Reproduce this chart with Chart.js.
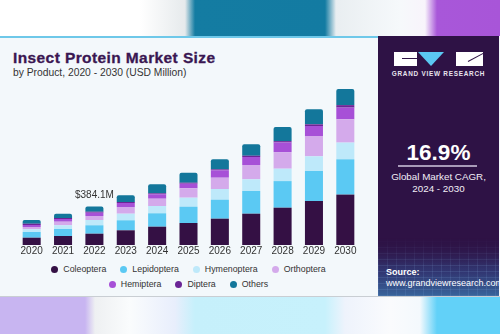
<!DOCTYPE html>
<html lang="en"><head>
<meta charset="utf-8"/>
<title>Insect Protein Market Size</title>
<script src="https://cdn.jsdelivr.net/npm/chart.js"></script>
<style>
    html, body { margin: 0; padding: 0; }
    body {
        width: 500px; height: 334px; position: relative; overflow: hidden;
        font-family: 'Liberation Sans', Arial, sans-serif;
        background: #fff;
    }
    .strip-top {
        position: absolute; left: 0; top: 0; width: 500px; height: 36px;
        background: linear-gradient(90deg, #ffffff 0px, #ffffff 140px, #e6eaec 185px, #147ca2 195px, #137ba2 325px, #e9eef1 336px, #f6f9fb 400px, #f8f4fb 425px, #a857d9 437px, #a855d8 500px);
    }
    .strip-bottom {
        position: absolute; left: 0; top: 297px; width: 500px; height: 37px;
        background: linear-gradient(90deg, #c8b5f1 0px, #c8b5f1 85px, #eef0f2 95px, #fafcfd 130px, #e8eefc 175px, #c6f0fb 195px, #c7f1fc 325px, #eef3fc 345px, #fafbfd 390px, #f4f9fd 420px, #62d1f8 437px, #62d1f8 500px);
    }
    .card {
        position: absolute; left: 0; top: 36px; width: 500px; height: 261px;
        background: #f3f8fb;
        border-bottom: 1px solid #c9ced3;
        box-sizing: border-box;
    }
    .card::before {
        content: ''; position: absolute; left: 0; top: 0; width: 378px; height: 2px; background: #6ec8e9;
    }
    .title {
        position: absolute; left: 13px; top: 12.5px;
        font-size: 15.5px; font-weight: bold; color: #3a1752; letter-spacing: 0.4px;
        -webkit-text-stroke: 0.3px #3a1752;
    }
    .subtitle {
        position: absolute; left: 13px; top: 31px;
        font-size: 10.3px; color: #333;
    }
    .chart-box { position: absolute; left: 16px; top: 85px; width: 345px; height: 172px; }
    .legend {
        position: absolute; left: 0; top: 229px; width: 377px;
        display: flex; flex-wrap: wrap; justify-content: center; row-gap: 3px;
        font-size: 8.8px; color: #333;
    }
    .legend .item { display: flex; align-items: center; margin: 0 7px; line-height: 9px; }
    .legend .dot { width: 7px; height: 7px; border-radius: 50%; margin-right: 5px; }
    .legend .break { flex-basis: 100%; height: 0; }
    .panel {
        position: absolute; left: 378px; top: 0; width: 121px; height: 260px;
        background: #2e1245; color: #fff; overflow: hidden;
    }
    .panel .grid {
        position: absolute; left: 0; bottom: 0; width: 121px; height: 58px;
        background:
            repeating-linear-gradient(0deg, rgba(140,180,230,0.14) 0px, rgba(140,180,230,0.14) 1px, transparent 1px, transparent 6px),
            repeating-linear-gradient(90deg, rgba(140,180,230,0.12) 0px, rgba(140,180,230,0.12) 1px, transparent 1px, transparent 9px),
            linear-gradient(180deg, rgba(46,18,69,1) 0%, rgba(50,60,120,0.9) 60%, rgba(56,100,155,1) 100%);
        -webkit-mask-image: linear-gradient(180deg, transparent 0%, #000 50%);
    }
    .logo { position: absolute; left: 16px; top: 16px; width: 90px; height: 14px; }
    .logo .l { position: absolute; left: 0; top: 0; width: 23px; height: 14px; background: #fff; }
    .logo .l::after { content: ''; position: absolute; left: 8px; top: 6px; width: 15px; height: 1px; background: #2e1245; }
    .logo .t {
        position: absolute; left: 24px; top: 0; width: 0; height: 0;
        border-left: 13px solid transparent; border-right: 13px solid transparent; border-top: 14px solid #5bc8f2;
    }
    .logo .r { position: absolute; left: 62px; top: 0; width: 27px; height: 14px; background: #fff; overflow: hidden; }
    .logo .r::after {
        content: ''; position: absolute; left: 12px; top: 9px; width: 18px; height: 1px; background: #2e1245;
        transform: rotate(-28deg); transform-origin: left center;
    }
    .brand {
        position: absolute; left: 0; top: 34px; width: 121px; text-align: center;
        font-size: 6.4px; font-weight: bold; letter-spacing: 0.75px; color: #e8e4ee;
    }
    .cagr {
        position: absolute; left: 0; top: 104px; width: 121px; text-align: center;
        font-size: 22.5px; font-weight: bold;
    }
    .rule { position: absolute; left: 20px; top: 129px; width: 79px; height: 1.5px; background: #a99bb9; }
    .cagr-note {
        position: absolute; left: 0; top: 135px; width: 121px; text-align: center;
        font-size: 9.8px; line-height: 11.5px; color: #f2eef6;
    }
    .source {
        position: absolute; left: 8px; top: 231px;
        font-size: 9px; line-height: 11px; color: #fff;
    }
</style>
</head>
<body>
<div class="strip-top"></div>
<div class="strip-bottom"></div>
<div class="card">
    <div class="title">Insect Protein Market Size</div>
    <div class="subtitle">by Product, 2020 - 2030 (USD Million)</div>
    <div class="legend" id="legend"></div>
    <div class="panel">
        <div class="grid"></div>
        <div class="logo"><div class="l"></div><div class="t"></div><div class="r"></div></div>
        <div class="brand">GRAND VIEW RESEARCH</div>
        <div class="cagr">16.9%</div>
        <div class="rule"></div>
        <div class="cagr-note">Global Market CAGR,<br/>2024 - 2030</div>
        <div class="source"><b>Source:</b><br/>www.grandviewresearch.com</div>
    </div>
</div>
<div class="chart-box"><canvas id="chart"></canvas></div>
<script>
    // market size by product, USD million
    const years = ['2020', '2021', '2022', '2023', '2024', '2025', '2026', '2027', '2028', '2029', '2030'];
    const coleoptera = [73, 90, 113, 147, 183, 220, 263, 313, 373, 440, 504];
    const lepidoptera = [57, 70, 84, 100, 134, 163, 190, 227, 266, 300, 353];
    const hymenoptera = [27, 37, 53, 66, 73, 90, 107, 117, 124, 147, 167];
    const orthoptera = [23, 36, 40, 67, 73, 94, 113, 143, 166, 203, 233];
    const hemiptera = [20, 27, 33, 40, 44, 46, 74, 80, 97, 100, 117];
    const diptera = [13, 10, 10, 10, 10, 10, 10, 13, 13, 17, 25];
    const others = [37, 43, 51.1, 67, 90, 100, 100, 114, 140, 150, 160];

    const seriesNames = ['Coleoptera', 'Lepidoptera', 'Hymenoptera', 'Orthoptera', 'Hemiptera', 'Diptera', 'Others'];
    const seriesColors = ['#341044', '#5bc9f3', '#bee9fa', '#d4aaeb', '#a750d7', '#6b2596', '#13779b'];
    const seriesData = [coleoptera, lepidoptera, hymenoptera, orthoptera, hemiptera, diptera, others];
    const labelledYear = '2022';

    const datasets = seriesNames.map((name, i) => ({
        label: name,
        data: seriesData[i],
        backgroundColor: seriesColors[i],
        borderWidth: 0,
        borderRadius: i === seriesNames.length - 1 ? 2 : 0,
        borderSkipped: 'start',
        barPercentage: 0.575,
        categoryPercentage: 1
    }));

    // legend rows: first four series, then the rest
    const legend = document.getElementById('legend');
    seriesNames.forEach((name, i) => {
        if (i === 4) {
            const br = document.createElement('div');
            br.className = 'break';
            legend.appendChild(br);
        }
        const item = document.createElement('div');
        item.className = 'item';
        item.innerHTML = '<span class="dot" style="background:' + seriesColors[i] + '"></span>' + name;
        legend.appendChild(item);
    });

    // total value written above one bar
    const totalLabel = {
        id: 'totalLabel',
        afterDatasetsDraw(chart) {
            const idx = years.indexOf(labelledYear);
            const total = seriesData.reduce((acc, s) => acc + s[idx], 0);
            const top = chart.getDatasetMeta(seriesData.length - 1).data[idx];
            const ctx = chart.ctx;
            ctx.save();
            ctx.font = '10px "Liberation Sans", Arial, sans-serif';
            ctx.fillStyle = '#333';
            ctx.textAlign = 'center';
            ctx.textBaseline = 'alphabetic';
            ctx.fillText('$' + total.toFixed(1) + 'M', top.x, top.y - 8.5);
            ctx.restore();
        }
    };

    new Chart(document.getElementById('chart'), {
        type: 'bar',
        data: { labels: years, datasets: datasets },
        plugins: [totalLabel],
        options: {
            responsive: true,
            maintainAspectRatio: false,
            animation: false,
            layout: { padding: 0 },
            scales: {
                x: {
                    stacked: true,
                    grid: { display: false, drawTicks: false },
                    border: { display: false },
                    ticks: {
                        color: '#333',
                        padding: 0,
                        font: { family: '"Liberation Sans", Arial, sans-serif', size: 10 }
                    }
                },
                y: {
                    stacked: true,
                    display: false,
                    min: 0,
                    max: 1600
                }
            },
            plugins: {
                legend: { display: false },
                tooltip: { enabled: false }
            }
        }
    });
</script>
</body></html>
